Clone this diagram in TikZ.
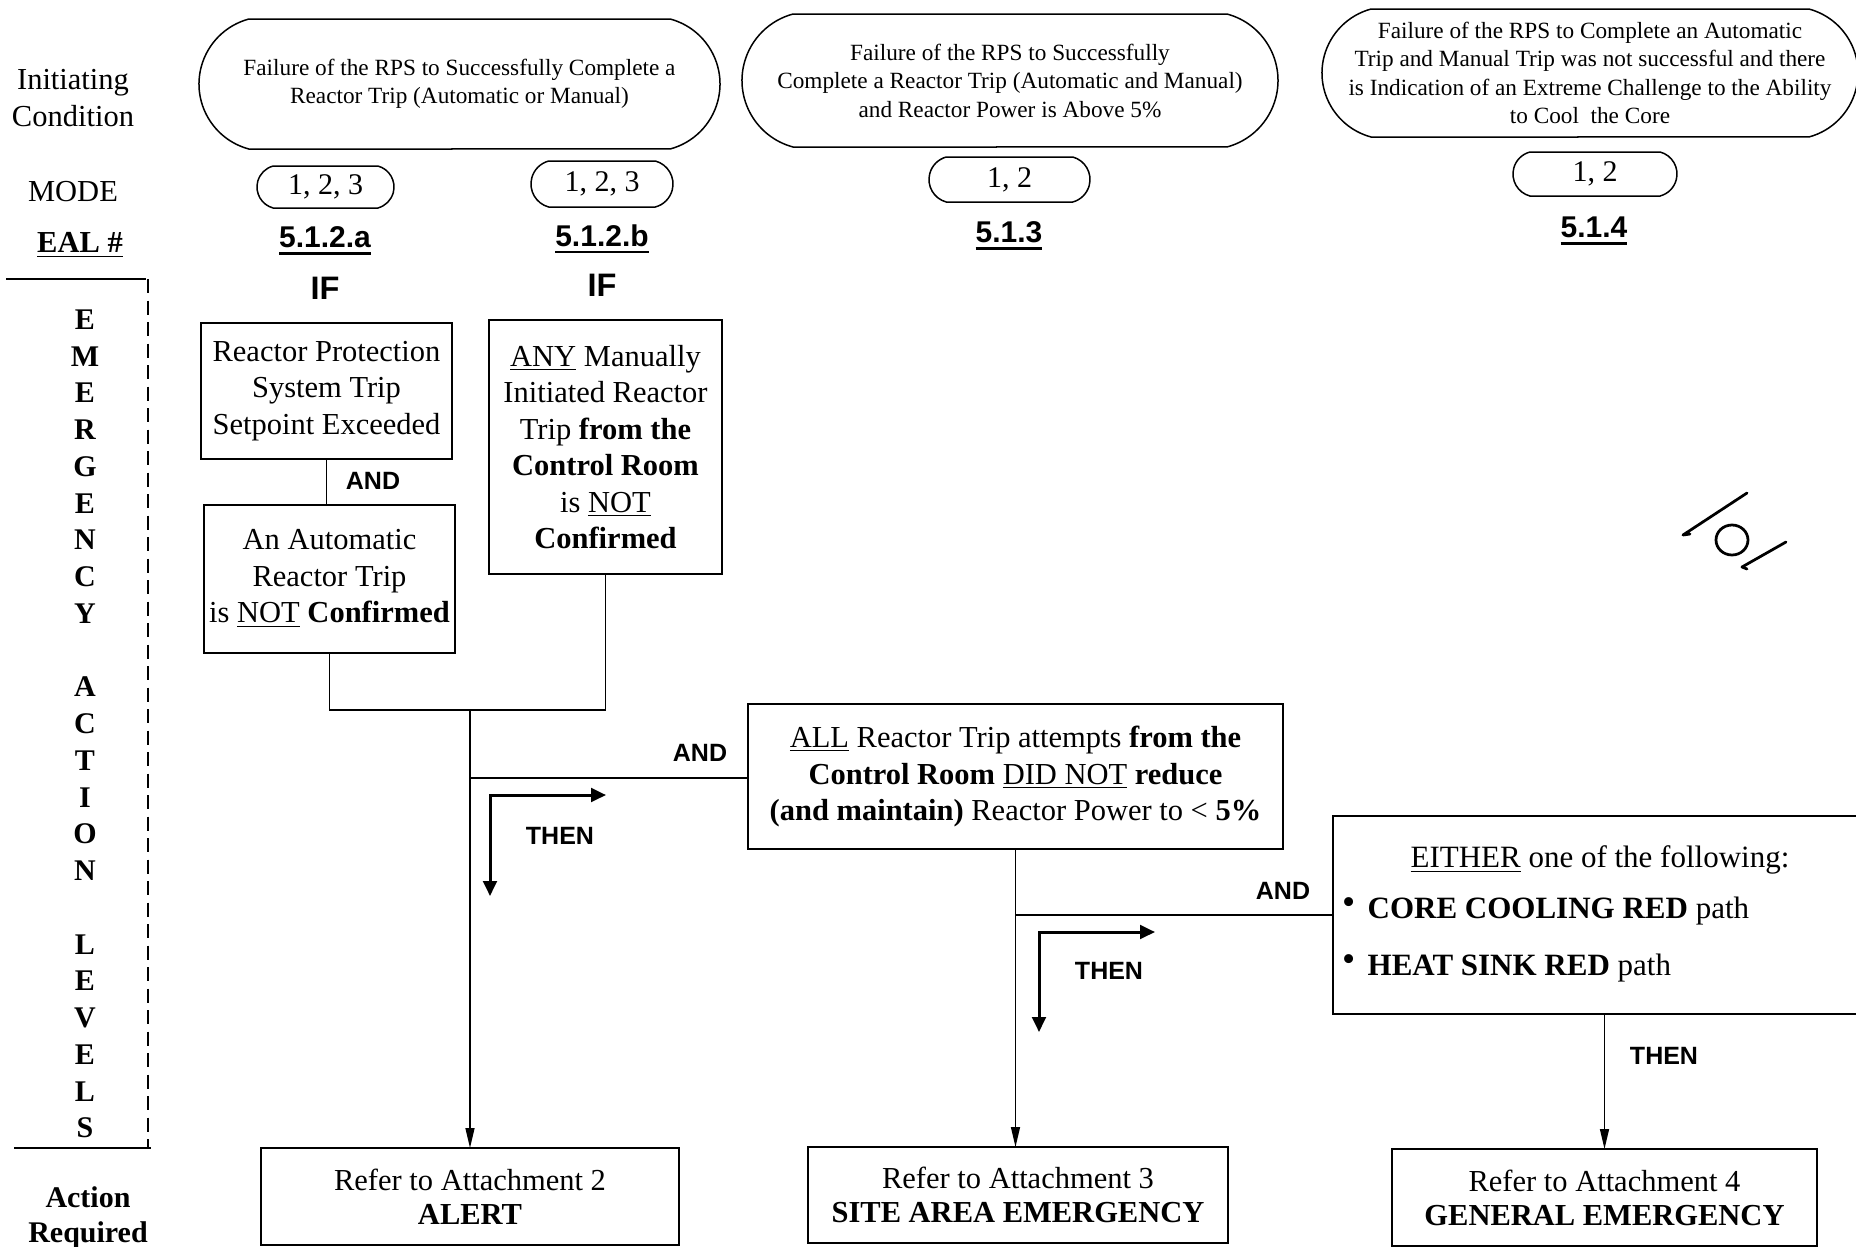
\documentclass[tikz,border=0pt]{standalone}
\usepackage{fontspec}
\setmainfont{Liberation Serif}
\setsansfont{Liberation Sans}
\usetikzlibrary{arrows.meta,shapes.misc}

% heavy underline used for the EAL numbers
\newcommand{\heavyul}[1]{\vtop{\hbox{#1}\kern1.6pt\hrule height 1.1pt}}

\begin{document}
\begin{tikzpicture}[x=0.4pt,y=-0.4pt,
  every node/.style={inner sep=0pt, outer sep=0pt},
  oval/.style={draw, line width=0.6pt, rounded rectangle, rounded rectangle arc length=150,
    align=center, font=\fontsize{9.3}{11.4}\selectfont},
  modeoval/.style={draw, line width=0.6pt, rounded rectangle, rounded rectangle arc length=150,
    font=\fontsize{12}{14}\selectfont},
  box/.style={draw, line width=0.8pt, align=center, font=\fontsize{12.2}{14.6}\selectfont},
  endbox/.style={draw, line width=0.8pt, align=center, font=\fontsize{12.2}{13.6}\selectfont},
  eal/.style={font=\sffamily\bfseries\fontsize{12}{14}\selectfont},
  iflbl/.style={font=\sffamily\bfseries\fontsize{13}{15}\selectfont},
  lbl/.style={font=\sffamily\bfseries\fontsize{10}{12}\selectfont},
  side/.style={align=center, font=\fontsize{12.2}{14.8}\selectfont},
  conn/.style={line width=0.6pt},
  arr/.style={conn, -{Triangle[length=8pt,width=3.6pt]}},
  thenarr/.style={line width=1.2pt,
    {Triangle[length=6pt,width=5.5pt]}-{Triangle[length=6pt,width=5.5pt]}},
  ink/.style={line width=1.1pt, line cap=round, line join=round},
]
\path[use as bounding box, fill=white] (0,0) rectangle (1856,1247);
\clip (0,0) rectangle (1856,1247);

% ---- row labels on the left ----
\node[side] (lic) at (73,98) {Initiating\\Condition};
\node[side] (lmode) at (73,192) {MODE};
\node[side, font=\bfseries\fontsize{12.2}{14.8}\selectfont] (leal) at (80,245) {\underline{EAL \#}};
\node[align=center, font=\bfseries\fontsize{12}{14.7}\selectfont] (leal2) at (85,724)
  {E\\M\\E\\R\\G\\E\\N\\C\\Y\\\mbox{}\\A\\C\\T\\I\\O\\N\\\mbox{}\\L\\E\\V\\E\\L\\S};
\node[align=center, font=\bfseries\fontsize{12}{14}\selectfont] (lact) at (88,1218) {Action\\Required};

% bracket round the action-level column
\draw[line width=0.8pt] (6,279) -- (146,279);
\draw[line width=0.9pt, dash pattern=on 5.6pt off 3pt] (148,279) -- (148,1148);
\draw[line width=0.8pt] (14,1148) -- (151,1148);

% ---- initiating conditions ----
\node[oval, minimum width=208.4pt, minimum height=52pt] (ic1) at (459.5,84)
  {Failure of the RPS to Successfully Complete a\\Reactor Trip (Automatic or Manual)};
\node[oval, minimum width=214.4pt, minimum height=53.2pt] (ic2) at (1010,80.5)
  {Failure of the RPS to Successfully\\Complete a Reactor Trip (Automatic and Manual)\\and Reactor Power is Above 5\%};
\node[oval, minimum width=214.4pt, minimum height=51.2pt] (ic3) at (1590,73)
  {Failure of the RPS to Complete an Automatic\\Trip and Manual Trip was not successful and there\\is Indication of an Extreme Challenge to the Ability\\to Cool~ the Core};

% ---- modes ----
\node[modeoval, minimum width=54.8pt, minimum height=16.8pt] (m1) at (325.5,187) {1, 2, 3};
\node[modeoval, minimum width=56.8pt, minimum height=18.4pt] (m2) at (602,184) {1, 2, 3};
\node[modeoval, minimum width=64.4pt, minimum height=18pt] (m3) at (1009.5,179.5) {1, 2};
\node[modeoval, minimum width=65.6pt, minimum height=17.6pt] (m4) at (1595,174) {1, 2};

% ---- EAL numbers ----
\node[eal] (e1) at (325,241) {\heavyul{5.1.2.a}};
\node[eal] (e2) at (602,239) {\heavyul{5.1.2.b}};
\node[eal] (e3) at (1009,236) {\heavyul{5.1.3}};
\node[eal] (e4) at (1594,231) {\heavyul{5.1.4}};

\node[iflbl] (if1) at (325,288) {IF};
\node[iflbl] (if2) at (602,285) {IF};

% ---- condition boxes ----
\node[box, minimum width=100.4pt, minimum height=54.4pt] (b1) at (326.5,391)
  {Reactor Protection\\System Trip\\Setpoint Exceeded};
\node[box, minimum width=100.4pt, minimum height=59.2pt] (b2) at (329.5,579)
  {An Automatic\\Reactor Trip\\is \underline{NOT} \textbf{Confirmed}};
\node[box, minimum width=93.2pt, minimum height=101.6pt] (b3) at (605.5,447)
  {\underline{ANY} Manually\\Initiated Reactor\\Trip \textbf{from the}\\\textbf{Control Room}\\is \underline{NOT}\\\textbf{Confirmed}};
\node[box, minimum width=214pt, minimum height=58pt] (b4) at (1015.5,776.5)
  {\underline{ALL} Reactor Trip attempts \textbf{from the}\\\textbf{Control Room} \underline{DID NOT} \textbf{reduce}\\\textbf{(and maintain)} Reactor Power to < \textbf{5\%}};
\node[draw, line width=0.8pt, minimum width=218.8pt, minimum height=79.2pt] (b5) at (1606.5,915) {};
\node[font=\fontsize{12.4}{14.8}\selectfont] (b5t) at (1600,860) {\underline{EITHER} one of the following:};
\node[anchor=west, font=\fontsize{12.4}{14.8}\selectfont] (b5a) at (1342,911)
  {\raisebox{1.5pt}{\fontsize{15}{15}\selectfont\textbullet}\hspace{5pt}\textbf{CORE COOLING RED} path};
\node[anchor=west, font=\fontsize{12.4}{14.8}\selectfont] (b5b) at (1342,968)
  {\raisebox{1.5pt}{\fontsize{15}{15}\selectfont\textbullet}\hspace{5pt}\textbf{HEAT SINK RED} path};

% ---- required actions ----
\node[endbox, minimum width=167.2pt, minimum height=38.8pt] (alert) at (470,1196.5)
  {Refer to Attachment 2\\\textbf{ALERT}};
\node[endbox, minimum width=168pt, minimum height=38.4pt] (sae) at (1018,1195)
  {Refer to Attachment 3\\\textbf{SITE AREA EMERGENCY}};
\node[endbox, minimum width=170pt, minimum height=38.8pt] (ge) at (1604.5,1197.5)
  {Refer to Attachment 4\\\textbf{GENERAL EMERGENCY}};

% ---- logic labels ----
\node[lbl] (and1) at (373,481) {AND};
\node[lbl] (and2) at (700,753) {AND};
\node[lbl] (and3) at (1283,891) {AND};
\node[lbl] (then1) at (560,836) {THEN};
\node[lbl] (then2) at (1109,971) {THEN};
\node[lbl] (then3) at (1664,1056) {THEN};

% ---- connectors ----
\coordinate (j1) at (470,710);
\coordinate (j2) at (470,778);
\coordinate (j3) at (1016,915);

\draw[conn] (b1.south) -- (b1.south |- b2.north);
\draw[conn] (b2.south) |- (j1) -| (b3.south);
\draw[arr] (j1) -- (alert.north);
\draw[conn] (j2) -- (j2 -| b4.west);
\draw[arr] (b4.south) -- (b4.south |- sae.north);
\draw[conn] (j3) -- (j3 -| b5.west);
\draw[arr] (ge.north |- b5.south) -- (ge.north);

% bent THEN arrows
\coordinate (t1) at (490,795);
\coordinate (t1r) at (606,795);
\coordinate (t1d) at (490,896);
\draw[thenarr] (t1d) -- (t1) -- (t1r);
\coordinate (t2) at (1039,932);
\coordinate (t2r) at (1155,932);
\coordinate (t2d) at (1039,1032);
\draw[thenarr] (t2d) -- (t2) -- (t2r);

% ---- handwritten initials at the right margin ----
\draw[ink] (1747,493) -- (1683,535) -- (1690,534);
\draw[ink] (1732,540) ellipse [x radius=16, y radius=15];
\draw[ink] (1786,542) -- (1742,567) -- (1747,569);
\end{tikzpicture}
\end{document}
